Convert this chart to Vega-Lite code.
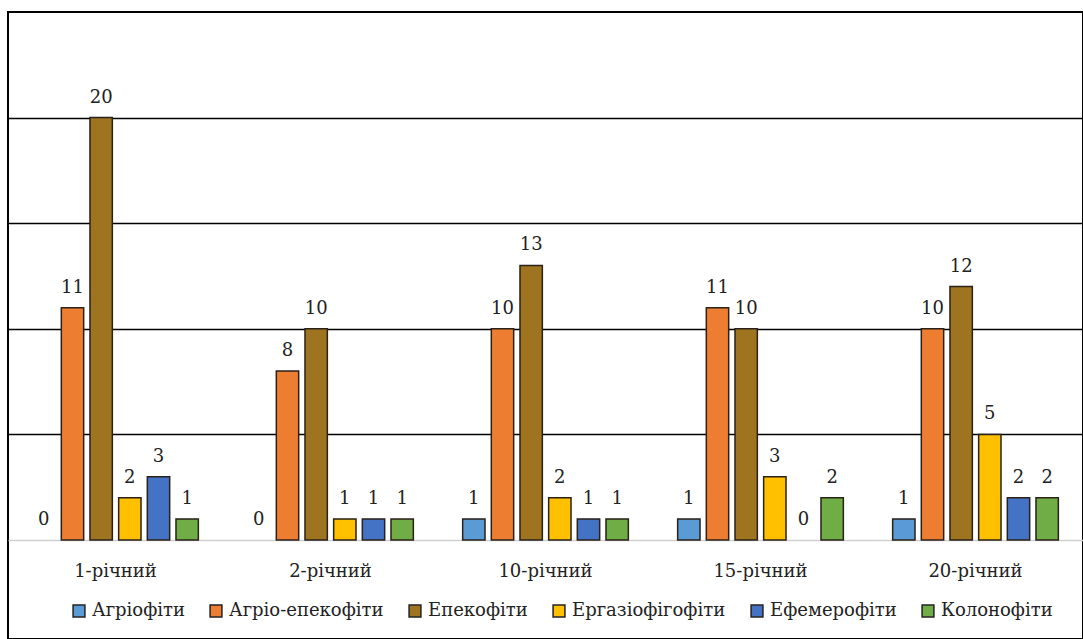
{
  "$schema": "https://vega.github.io/schema/vega-lite/v6.json",
  "autosize": "none",
  "padding": {"left": 8, "top": 12, "right": 0, "bottom": 0},
  "width": 1075,
  "height": 627,
  "background": "white",
  "config": {
    "view": {"stroke": "black", "strokeWidth": 2},
    "font": "DejaVu Serif",
    "text": {"font": "DejaVu Serif"},
    "axis": {"labelFont": "DejaVu Serif"},
    "legend": {"labelFont": "DejaVu Serif"}
  },
  "data": {
    "values": [
      {"group": "1-річний", "series": "Агріофіти", "value": 0},
      {"group": "1-річний", "series": "Агріо-епекофіти", "value": 11},
      {"group": "1-річний", "series": "Епекофіти", "value": 20},
      {"group": "1-річний", "series": "Ергазіофігофіти", "value": 2},
      {"group": "1-річний", "series": "Ефемерофіти", "value": 3},
      {"group": "1-річний", "series": "Колонофіти", "value": 1},
      {"group": "2-річний", "series": "Агріофіти", "value": 0},
      {"group": "2-річний", "series": "Агріо-епекофіти", "value": 8},
      {"group": "2-річний", "series": "Епекофіти", "value": 10},
      {"group": "2-річний", "series": "Ергазіофігофіти", "value": 1},
      {"group": "2-річний", "series": "Ефемерофіти", "value": 1},
      {"group": "2-річний", "series": "Колонофіти", "value": 1},
      {"group": "10-річний", "series": "Агріофіти", "value": 1},
      {"group": "10-річний", "series": "Агріо-епекофіти", "value": 10},
      {"group": "10-річний", "series": "Епекофіти", "value": 13},
      {"group": "10-річний", "series": "Ергазіофігофіти", "value": 2},
      {"group": "10-річний", "series": "Ефемерофіти", "value": 1},
      {"group": "10-річний", "series": "Колонофіти", "value": 1},
      {"group": "15-річний", "series": "Агріофіти", "value": 1},
      {"group": "15-річний", "series": "Агріо-епекофіти", "value": 11},
      {"group": "15-річний", "series": "Епекофіти", "value": 10},
      {"group": "15-річний", "series": "Ергазіофігофіти", "value": 3},
      {"group": "15-річний", "series": "Ефемерофіти", "value": 0},
      {"group": "15-річний", "series": "Колонофіти", "value": 2},
      {"group": "20-річний", "series": "Агріофіти", "value": 1},
      {"group": "20-річний", "series": "Агріо-епекофіти", "value": 10},
      {"group": "20-річний", "series": "Епекофіти", "value": 12},
      {"group": "20-річний", "series": "Ергазіофігофіти", "value": 5},
      {"group": "20-річний", "series": "Ефемерофіти", "value": 2},
      {"group": "20-річний", "series": "Колонофіти", "value": 2}
    ]
  },
  "encoding": {
    "x": {
      "field": "group",
      "type": "nominal",
      "sort": null,
      "title": null,
      "scale": {"paddingInner": 0.2, "paddingOuter": 0.1},
      "axis": {
        "offset": -99,
        "domainColor": "#d0d0d0",
        "domainWidth": 1.5,
        "ticks": false,
        "labelAngle": 0,
        "labelFont": "DejaVu Serif",
        "labelFontSize": 18,
        "labelColor": "#222",
        "labelPadding": 22
      }
    },
    "xOffset": {
      "field": "series",
      "type": "nominal",
      "sort": null,
      "scale": {"paddingInner": 0.22, "paddingOuter": 0.11}
    },
    "y": {
      "field": "value",
      "type": "quantitative",
      "title": null,
      "scale": {"domain": [0, 25], "range": [528, 0], "nice": false},
      "axis": {
        "values": [5, 10, 15, 20],
        "domain": false,
        "ticks": false,
        "labels": false,
        "grid": true,
        "gridColor": "black",
        "gridWidth": 1.5,
        "gridOpacity": 1
      }
    }
  },
  "layer": [
    {
      "mark": {"type": "bar", "stroke": "#2a2118"},
      "encoding": {
        "strokeWidth": {
          "condition": {"test": "datum.value === 0", "value": 0},
          "value": 1.5
        },
        "color": {
          "field": "series",
          "type": "nominal",
          "title": null,
          "scale": {
            "domain": ["Агріофіти", "Агріо-епекофіти", "Епекофіти", "Ергазіофігофіти", "Ефемерофіти", "Колонофіти"],
            "range": ["#5B9BD5", "#ED7D31", "#9E7420", "#FFC000", "#4472C4", "#70AD47"]
          },
          "legend": {
            "orient": "none",
            "legendX": 62,
            "legendY": 590,
            "direction": "horizontal",
            "columns": 6,
            "symbolType": "square",
            "symbolSize": 140,
            "symbolStrokeColor": "#222",
            "symbolStrokeWidth": 1.5,
            "symbolOpacity": 1,
            "labelFont": "DejaVu Serif",
            "labelFontSize": 18,
            "labelColor": "#222",
            "labelOffset": 4,
            "columnPadding": 22,
            "labelLimit": 300
          }
        }
      }
    },
    {
      "mark": {
        "type": "text",
        "baseline": "bottom",
        "dy": -11,
        "font": "DejaVu Serif",
        "fontSize": 18,
        "color": "#222"
      },
      "encoding": {
        "text": {"field": "value", "type": "quantitative"}
      }
    }
  ]
}
